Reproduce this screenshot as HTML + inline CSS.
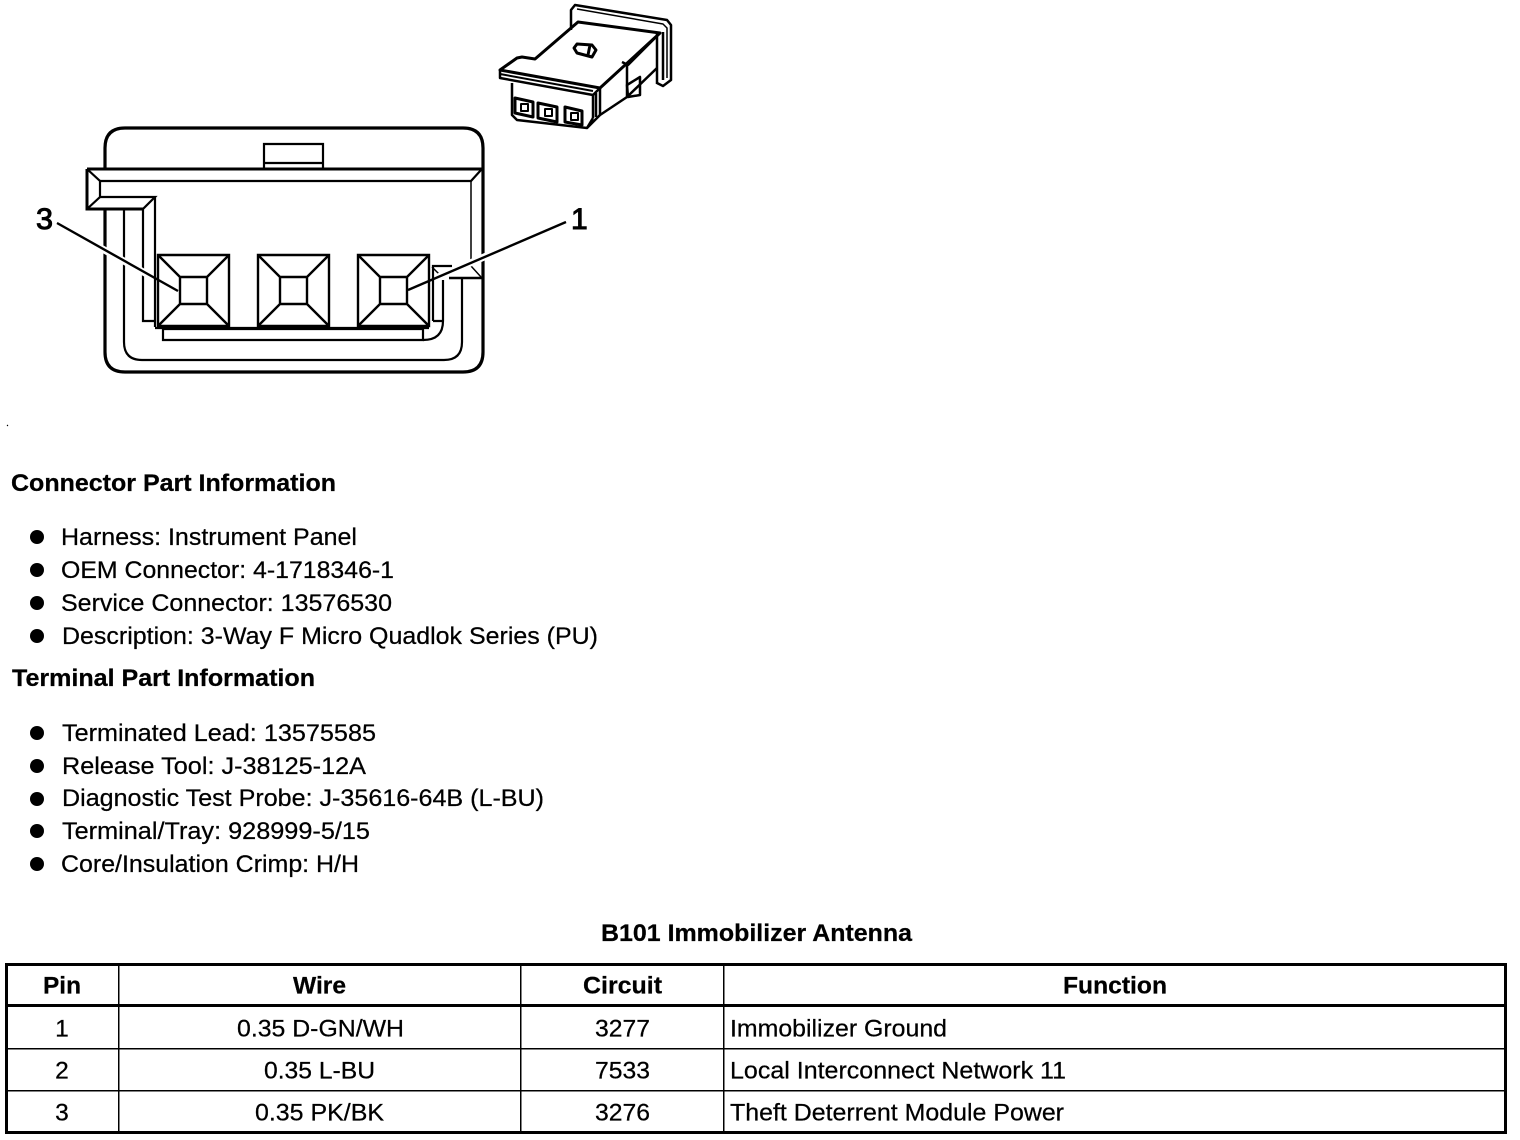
<!DOCTYPE html>
<html><head><meta charset="utf-8"><style>
html,body{margin:0;padding:0;background:#fff}
svg{display:block}
text{font-family:"Liberation Sans",Arial,sans-serif;font-size:24.5px;fill:#000;stroke:#000;stroke-width:0.25px}
.b{font-weight:bold}
.m{text-anchor:middle}
</style></head><body>
<svg width="1520" height="1140" viewBox="0 0 1520 1140" xmlns="http://www.w3.org/2000/svg">
<rect width="1520" height="1140" fill="#fff"/>
<!-- isometric connector -->
<g fill="none" stroke="#000" stroke-width="2.5" stroke-linejoin="round">
<path d="M571 30V10L575 5L667 20L671 25V80L663 86L657 83"/>
<path d="M577 9L663 24L667 28V78" stroke-width="1.5"/>
<path d="M500 70L517 58L522 57L535 59L578 22L660 33L600 88Z" stroke-width="3"/>
<path d="M500 70V78L593 95L600 88"/>
<path d="M500 74L593 91" stroke-width="2"/>
<path d="M593 95V118M600 88V115M596 93V117"/>
<path d="M512 83V115L517 120L587 128L593 118"/>
<path d="M587 128L600 115L627 97L657 68"/>
<path d="M622 62L628 65L660 33M627 65V97"/>
<path d="M657 33V84M663 32V80"/>
<path d="M627 85L640 77V95L628 97Z"/>
<path d="M574 48L577 44L592 45L596 50L592 57L577 53ZM590 45L588 55" stroke-width="3"/>
<path d="M515 98L533 102V117L515 113Z M538 103L557 107V122L538 118Z M565 107L582 111V125L565 122Z" stroke-width="3"/>
<path d="M521 104H528V111H521ZM545 109H552V116H545ZM571 113H578V120H571Z" stroke-width="2"/>
</g>
<!-- main connector -->
<g fill="none" stroke="#000" stroke-linejoin="miter">
<path d="M105 169V148Q105 128 125 128H463Q483 128 483 148V352Q483 372 463 372H125Q105 372 105 352V209" stroke-width="3.2"/>
<path d="M264 168V144H323V168" stroke-width="2.2"/>
<path d="M264 163H323" stroke-width="2.2"/>
<path d="M87 169H482" stroke-width="3"/>
<path d="M87 169V209H143" stroke-width="3"/>
<path d="M100 181H471L481 170" stroke-width="2.2"/>
<path d="M471 181V266L481 277" stroke-width="1.5"/>
<path d="M87 169L100 181V197L87 209" stroke-width="2.2"/>
<path d="M100 197H155L143 209V321H155" stroke-width="2.2"/>
<path d="M155 197V327" stroke-width="2.2"/>
<path d="M124 209V342Q124 360 142 360H444Q462 360 462 342V278" stroke-width="2.2"/>
<path d="M449 278H482" stroke-width="2.5"/>
<path d="M163 329H423V340H163Z" stroke-width="2.2"/>
<path d="M423 340Q443 340 443 321V280" stroke-width="2.2"/>
<path d="M433 321V266H452M433 321H443" stroke-width="2.2"/>
<path d="M432 267L440 275" stroke-width="1.5"/>
<path d="M155 328H429" stroke-width="2.2"/>
<!-- terminals -->
<g stroke-width="2.4">
<path d="M158 255H229V326H158ZM180 277H207V304H180ZM158 255L180 277M229 255L207 277M158 326L180 304M229 326L207 304"/>
<path d="M258 255H329V326H258ZM280 277H307V304H280ZM258 255L280 277M329 255L307 277M258 326L280 304M329 326L307 304"/>
<path d="M358 255H429V326H358ZM380 277H407V304H380ZM358 255L380 277M429 255L407 277M358 326L380 304M429 326L407 304"/>
</g>
</g>
<path d="M92 243L152 277M500 250L436 278" stroke="#fff" stroke-width="7" fill="none"/>
<path d="M57 223L178 291" stroke="#000" stroke-width="2.4" fill="none"/>
<path d="M566 222L408 290" stroke="#000" stroke-width="2.4" fill="none"/>
<text x="36" y="229" style="font-size:30px;stroke-width:1px" textLength="17" lengthAdjust="spacingAndGlyphs">3</text>
<text x="571" y="229" style="font-size:30px;stroke-width:1px">1</text>
<circle cx="7.5" cy="425.5" r="0.7" fill="#000"/>
<!-- text -->
<text class="b" x="11" y="491" textLength="325" lengthAdjust="spacingAndGlyphs">Connector Part Information</text>
<g fill="#000"><circle cx="37" cy="537" r="7"/><circle cx="37" cy="570" r="7"/><circle cx="37" cy="603" r="7"/><circle cx="37" cy="636" r="7"/><circle cx="37" cy="733" r="7"/><circle cx="37" cy="766" r="7"/><circle cx="37" cy="799" r="7"/><circle cx="37" cy="831" r="7"/><circle cx="37" cy="864" r="7"/></g>
<text x="61" y="545" textLength="296" lengthAdjust="spacingAndGlyphs">Harness: Instrument Panel</text>
<text x="61" y="578" textLength="333" lengthAdjust="spacingAndGlyphs">OEM Connector: 4-1718346-1</text>
<text x="61" y="611" textLength="331" lengthAdjust="spacingAndGlyphs">Service Connector: 13576530</text>
<text x="62" y="644" textLength="536" lengthAdjust="spacingAndGlyphs">Description: 3-Way F Micro Quadlok Series (PU)</text>
<text class="b" x="12" y="686" textLength="303" lengthAdjust="spacingAndGlyphs">Terminal Part Information</text>
<text x="62" y="741" textLength="314" lengthAdjust="spacingAndGlyphs">Terminated Lead: 13575585</text>
<text x="62" y="774" textLength="304" lengthAdjust="spacingAndGlyphs">Release Tool: J-38125-12A</text>
<text x="62" y="806" textLength="482" lengthAdjust="spacingAndGlyphs">Diagnostic Test Probe: J-35616-64B (L-BU)</text>
<text x="62" y="839" textLength="308" lengthAdjust="spacingAndGlyphs">Terminal/Tray: 928999-5/15</text>
<text x="61" y="872" textLength="298" lengthAdjust="spacingAndGlyphs">Core/Insulation Crimp: H/H</text>
<text class="b" x="601" y="941" textLength="311" lengthAdjust="spacingAndGlyphs">B101 Immobilizer Antenna</text>
<!-- table -->
<g fill="none" stroke="#000" shape-rendering="crispEdges">
<rect x="6.5" y="964.5" width="1499" height="168" stroke-width="3"/>
<path d="M6 1005.5H1506" stroke-width="3"/>
<path d="M6 1048.5H1506M6 1090.5H1506M118.5 964V1132M520.5 964V1132M723.5 964V1132" stroke-width="1.5"/>
</g>
<text class="b" x="43" y="993.5" textLength="38" lengthAdjust="spacingAndGlyphs">Pin</text>
<text class="b" x="293" y="993.5" textLength="53" lengthAdjust="spacingAndGlyphs">Wire</text>
<text class="b" x="583" y="993.5" textLength="79" lengthAdjust="spacingAndGlyphs">Circuit</text>
<text class="b" x="1063" y="993.5" textLength="104" lengthAdjust="spacingAndGlyphs">Function</text>
<text class="m" x="62" y="1036.5">1</text>
<text x="237" y="1036.5" textLength="167" lengthAdjust="spacingAndGlyphs">0.35 D-GN/WH</text>
<text x="595" y="1036.5" textLength="55" lengthAdjust="spacingAndGlyphs">3277</text>
<text x="730" y="1036.5" textLength="217" lengthAdjust="spacingAndGlyphs">Immobilizer Ground</text>
<text class="m" x="62" y="1078.5">2</text>
<text x="264" y="1078.5" textLength="111" lengthAdjust="spacingAndGlyphs">0.35 L-BU</text>
<text x="595" y="1078.5" textLength="55" lengthAdjust="spacingAndGlyphs">7533</text>
<text x="730" y="1078.5" textLength="336" lengthAdjust="spacingAndGlyphs">Local Interconnect Network 11</text>
<text class="m" x="62" y="1120.5">3</text>
<text x="255" y="1120.5" textLength="129" lengthAdjust="spacingAndGlyphs">0.35 PK/BK</text>
<text x="595" y="1120.5" textLength="55" lengthAdjust="spacingAndGlyphs">3276</text>
<text x="730" y="1120.5" textLength="334" lengthAdjust="spacingAndGlyphs">Theft Deterrent Module Power</text>
</svg>
</body></html>
